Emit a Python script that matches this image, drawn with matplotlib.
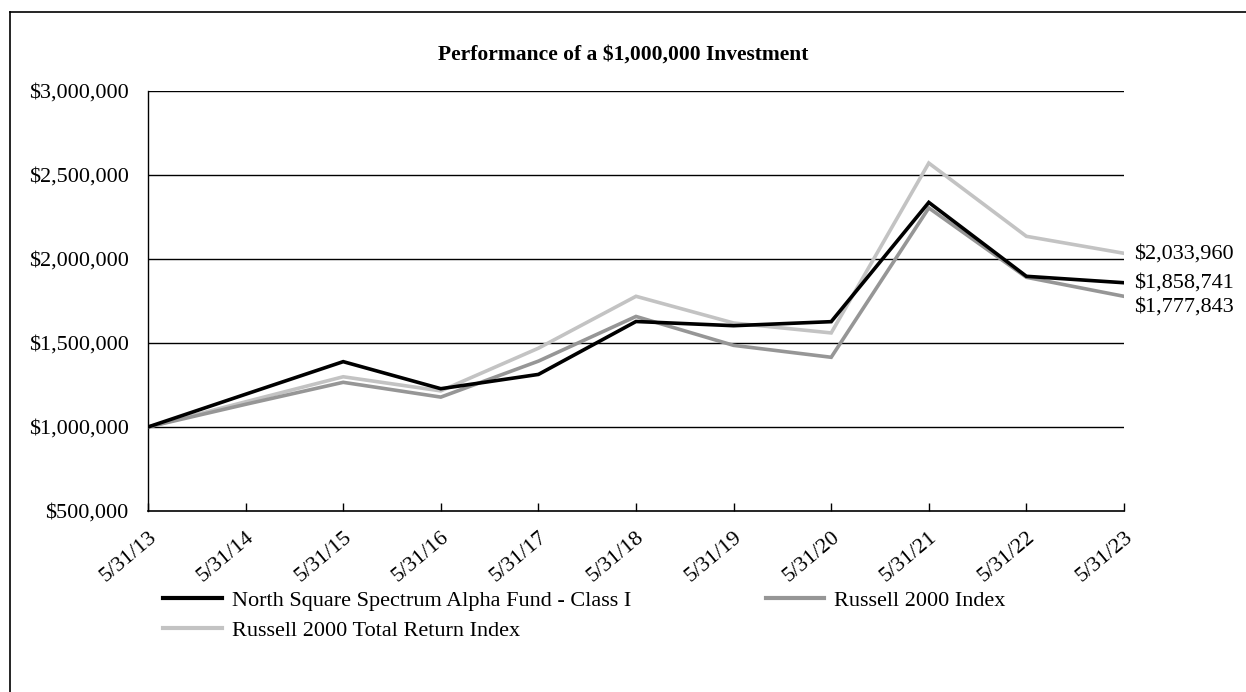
import matplotlib
matplotlib.use("Agg")
import matplotlib.pyplot as plt
from matplotlib.lines import Line2D
from matplotlib.ticker import FuncFormatter

plt.rcParams['font.family'] = ['Liberation Serif', 'DejaVu Serif']

dates = ["5/31/13", "5/31/14", "5/31/15", "5/31/16", "5/31/17", "5/31/18",
         "5/31/19", "5/31/20", "5/31/21", "5/31/22", "5/31/23"]
fund = [1000000, 1195000, 1389000, 1228000, 1313000, 1628000,
        1603000, 1627000, 2337000, 1897000, 1858741]
r2000 = [1000000, 1135000, 1266000, 1178000, 1392000, 1658000,
         1486000, 1415000, 2304000, 1891000, 1777843]
r2000_tr = [1000000, 1150000, 1299000, 1215000, 1469000, 1778000,
            1619000, 1560000, 2571000, 2135000, 2033960]
series_names = ["North Square Spectrum Alpha Fund - Class I",
                "Russell 2000 Index",
                "Russell 2000 Total Return Index"]
end_labels = ["$1,858,741", "$1,777,843", "$2,033,960"]
y_ticks = [500000, 1000000, 1500000, 2000000, 2500000, 3000000]
title = "Performance of a $1,000,000 Investment"

colors = ["#000000", "#969696", "#c3c3c3"]
FS = 16

fig = plt.figure(figsize=(12.46, 6.92), dpi=100)
ax = fig.add_axes([148/1246, 1-511/692, (1124-148)/1246, (511-91)/692])

x = list(range(len(dates)))
# draw order: light, gray, black on top
ax.plot(x, r2000_tr, color=colors[2], lw=2.6, solid_joinstyle='miter', zorder=3)
ax.plot(x, r2000, color=colors[1], lw=2.6, solid_joinstyle='miter', zorder=4)
ax.plot(x, fund, color=colors[0], lw=2.6, solid_joinstyle='miter', zorder=5)

ax.set_xlim(0, len(dates)-1)
ax.set_ylim(500000, 3000000)
ax.set_yticks(y_ticks)
ax.yaxis.set_major_formatter(FuncFormatter(lambda v, p: "${:,.0f}".format(v)))
ax.tick_params(axis='y', length=0, pad=14, labelsize=FS)
ax.set_xticks(x)
ax.set_xticklabels(dates, rotation=40, ha='right', va='top', rotation_mode='anchor')
ax.tick_params(axis='x', direction='in', length=6, width=1, pad=12, labelsize=FS)
for v in y_ticks[1:]:
    ax.axhline(v, color='black', lw=1, zorder=1)
for s in ['top', 'right']:
    ax.spines[s].set_visible(False)
ax.spines['left'].set_linewidth(1)
ax.spines['bottom'].set_linewidth(1.2)

# end labels
vals = [fund[-1], r2000[-1], r2000_tr[-1]]
ys_fix = [0, -7.5, -0.5]
for lab, v, dy in zip(end_labels, vals, ys_fix):
    ax.annotate(lab, xy=(x[-1], v), xytext=(7, dy), textcoords='offset points',
                ha='left', va='center', fontsize=FS, annotation_clip=False)

fig.text(623/1246, 1-55/692, title, ha='center', va='center', fontsize=15.5, fontweight='bold')

handles = [Line2D([0], [0], color=c, lw=3) for c in colors]
order = [0, 2, 1]
leg = fig.legend([handles[i] for i in order], [series_names[i] for i in order],
                 loc='upper left', ncol=2,
                 bbox_to_anchor=(163/1246, 1-590/692), frameon=False, fontsize=FS,
                 borderpad=0, borderaxespad=0,
                 handlelength=2.65, handletextpad=0.45, columnspacing=6.05, labelspacing=0.45)

# frame lines (top and left)
fig.add_artist(Line2D([10/1246, 1], [1-12/692, 1-12/692], color='black', lw=1.2, transform=fig.transFigure))
fig.add_artist(Line2D([10/1246, 10/1246], [0, 1-12/692], color='black', lw=1.2, transform=fig.transFigure))

fig.savefig("out.png", dpi=100)
